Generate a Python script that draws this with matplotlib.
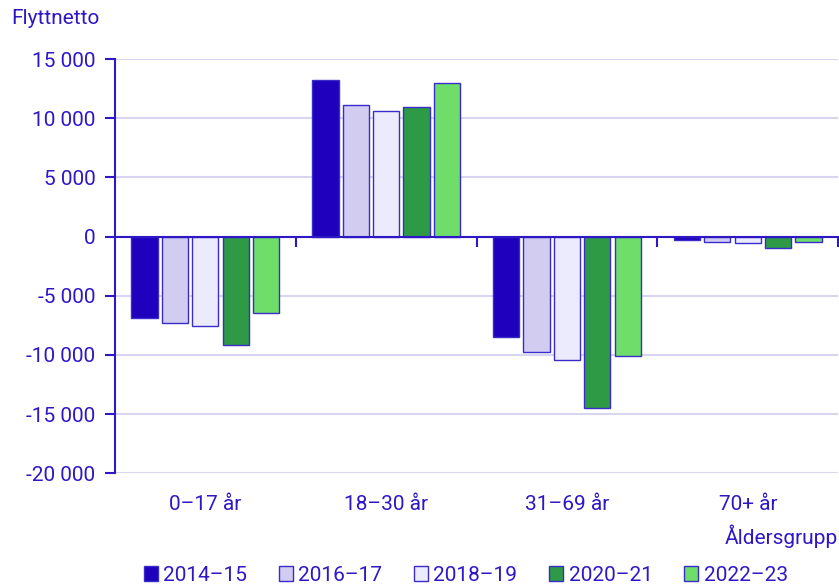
import numpy as np
import matplotlib.pyplot as plt
from matplotlib.ticker import FuncFormatter, FixedLocator
import matplotlib.transforms as mtransforms

plt.rcParams['font.family'] = ['Roboto', 'DejaVu Sans']

groups = ['0–17 år', '18–30 år', '31–69 år', '70+ år']
periods = ['2014–15', '2016–17', '2018–19', '2020–21', '2022–23']
v2014 = [-6900, 13250, -8450, -300]
v2016 = [-7300, 11150, -9770, -420]
v2018 = [-7530, 10600, -10420, -520]
v2020 = [-9130, 10950, -14480, -950]
v2022 = [-6440, 13000, -10100, -470]
series = [v2014, v2016, v2018, v2020, v2022]
colors = ['#1f00bd', '#d2ccf1', '#ecebfd', '#2e9a46', '#6edd6a']

txt = '#2e18c6'
edge = '#3a2ccb'
fs = 15

fig = plt.figure(figsize=(8.39, 5.85), dpi=100)
ax = fig.add_axes([0.137, 0.191, 0.862, 0.708])

x = np.arange(len(groups))
step = 0.168
width = 0.145
for i, (vals, c) in enumerate(zip(series, colors)):
    ax.bar(x + (i - 2) * step, vals, width, color=c, edgecolor=edge,
           linewidth=1, label=periods[i], zorder=3)

ax.set_xlim(-0.5, 3.5)
ax.set_ylim(-20000, 15000)
ax.set_yticks(range(-20000, 15001, 5000))
ax.yaxis.set_major_formatter(FuncFormatter(lambda v, p: f'{int(v):,}'.replace(',', ' ')))
ax.grid(axis='y', color='#d8d5f0', linewidth=1.5, zorder=0)

for s in ['top', 'right']:
    ax.spines[s].set_visible(False)
ax.spines['left'].set_color(txt)
ax.spines['left'].set_linewidth(1.5)
ax.spines['bottom'].set_position(('data', 0))
ax.spines['bottom'].set_color(txt)
ax.spines['bottom'].set_linewidth(1.5)
ax.spines['bottom'].set_zorder(4)

ax.xaxis.set_major_locator(FixedLocator([0.5, 1.5, 2.5, 3.5]))
ax.set_xticklabels([])
ax.tick_params(axis='x', direction='out', length=7, width=1.5, color=txt)
ax.tick_params(axis='y', direction='out', length=7, width=1.5, color=txt,
               labelcolor=txt, labelsize=fs, pad=7)

trans = mtransforms.blended_transform_factory(ax.transData, ax.transAxes)
for xi, g in zip(x, groups):
    ax.text(xi, -0.075, g, transform=trans, ha='center', va='center',
            color=txt, fontsize=fs)
ax.text(1.0, -0.152, 'Åldersgrupp', transform=ax.transAxes, ha='right',
        va='center', color=txt, fontsize=fs)

fig.text(0.014, 0.968, 'Flyttnetto', color=txt, fontsize=fs, ha='left', va='center')

leg = fig.legend(loc='lower center', bbox_to_anchor=(0.555, -0.032), ncol=5,
                 frameon=False, handlelength=0.7, handleheight=0.7,
                 handletextpad=0.25, columnspacing=1.5, fontsize=fs)
for t in leg.get_texts():
    t.set_color(txt)

fig.savefig('out.png', dpi=100)
